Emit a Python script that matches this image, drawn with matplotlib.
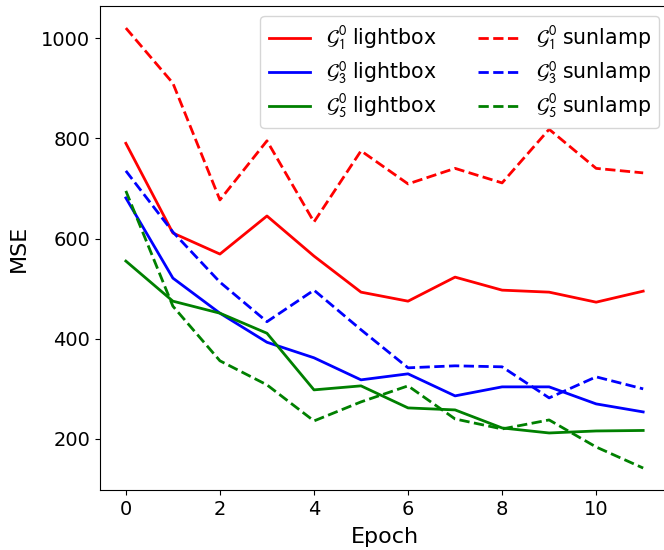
import numpy as np
import matplotlib
matplotlib.use("Agg")
import matplotlib.pyplot as plt

plt.rcParams['mathtext.fontset'] = 'stixsans'

epochs = np.arange(12)

g1_lightbox = [790, 611, 569, 645, 565, 493, 475, 523, 497, 493, 473, 495]
g3_lightbox = [681, 521, 451, 393, 362, 318, 330, 286, 304, 304, 270, 254]
g5_lightbox = [555, 475, 451, 411, 298, 306, 262, 258, 222, 212, 216, 217]

g1_sunlamp = [1020, 910, 677, 795, 633, 775, 709, 740, 711, 818, 740, 731]
g3_sunlamp = [735, 613, 513, 434, 497, 418, 342, 346, 344, 282, 324, 300]
g5_sunlamp = [695, 465, 356, 308, 236, 274, 306, 240, 220, 238, 184, 142]

fig = plt.figure(figsize=(6.64, 5.5), dpi=100)
ax = fig.add_axes([0.1506, 0.109, 0.857, 0.880])

ax.plot(epochs, g1_lightbox, color='red', lw=2, label=r'$\mathcal{G}_1^0$ lightbox')
ax.plot(epochs, g3_lightbox, color='blue', lw=2, label=r'$\mathcal{G}_3^0$ lightbox')
ax.plot(epochs, g5_lightbox, color='green', lw=2, label=r'$\mathcal{G}_5^0$ lightbox')
ax.plot(epochs, g1_sunlamp, color='red', lw=2, ls='--', label=r'$\mathcal{G}_1^0$ sunlamp')
ax.plot(epochs, g3_sunlamp, color='blue', lw=2, ls='--', label=r'$\mathcal{G}_3^0$ sunlamp')
ax.plot(epochs, g5_sunlamp, color='green', lw=2, ls='--', label=r'$\mathcal{G}_5^0$ sunlamp')

ax.set_xlabel('Epoch', fontsize=16, labelpad=6)
ax.set_ylabel('MSE', fontsize=16, labelpad=9)
ax.tick_params(labelsize=14)
ax.set_yticks([200, 400, 600, 800, 1000])
ax.legend(ncol=2, loc='upper right', fontsize=14.8, labelspacing=0.35)

fig.savefig('out.png', dpi=100)
